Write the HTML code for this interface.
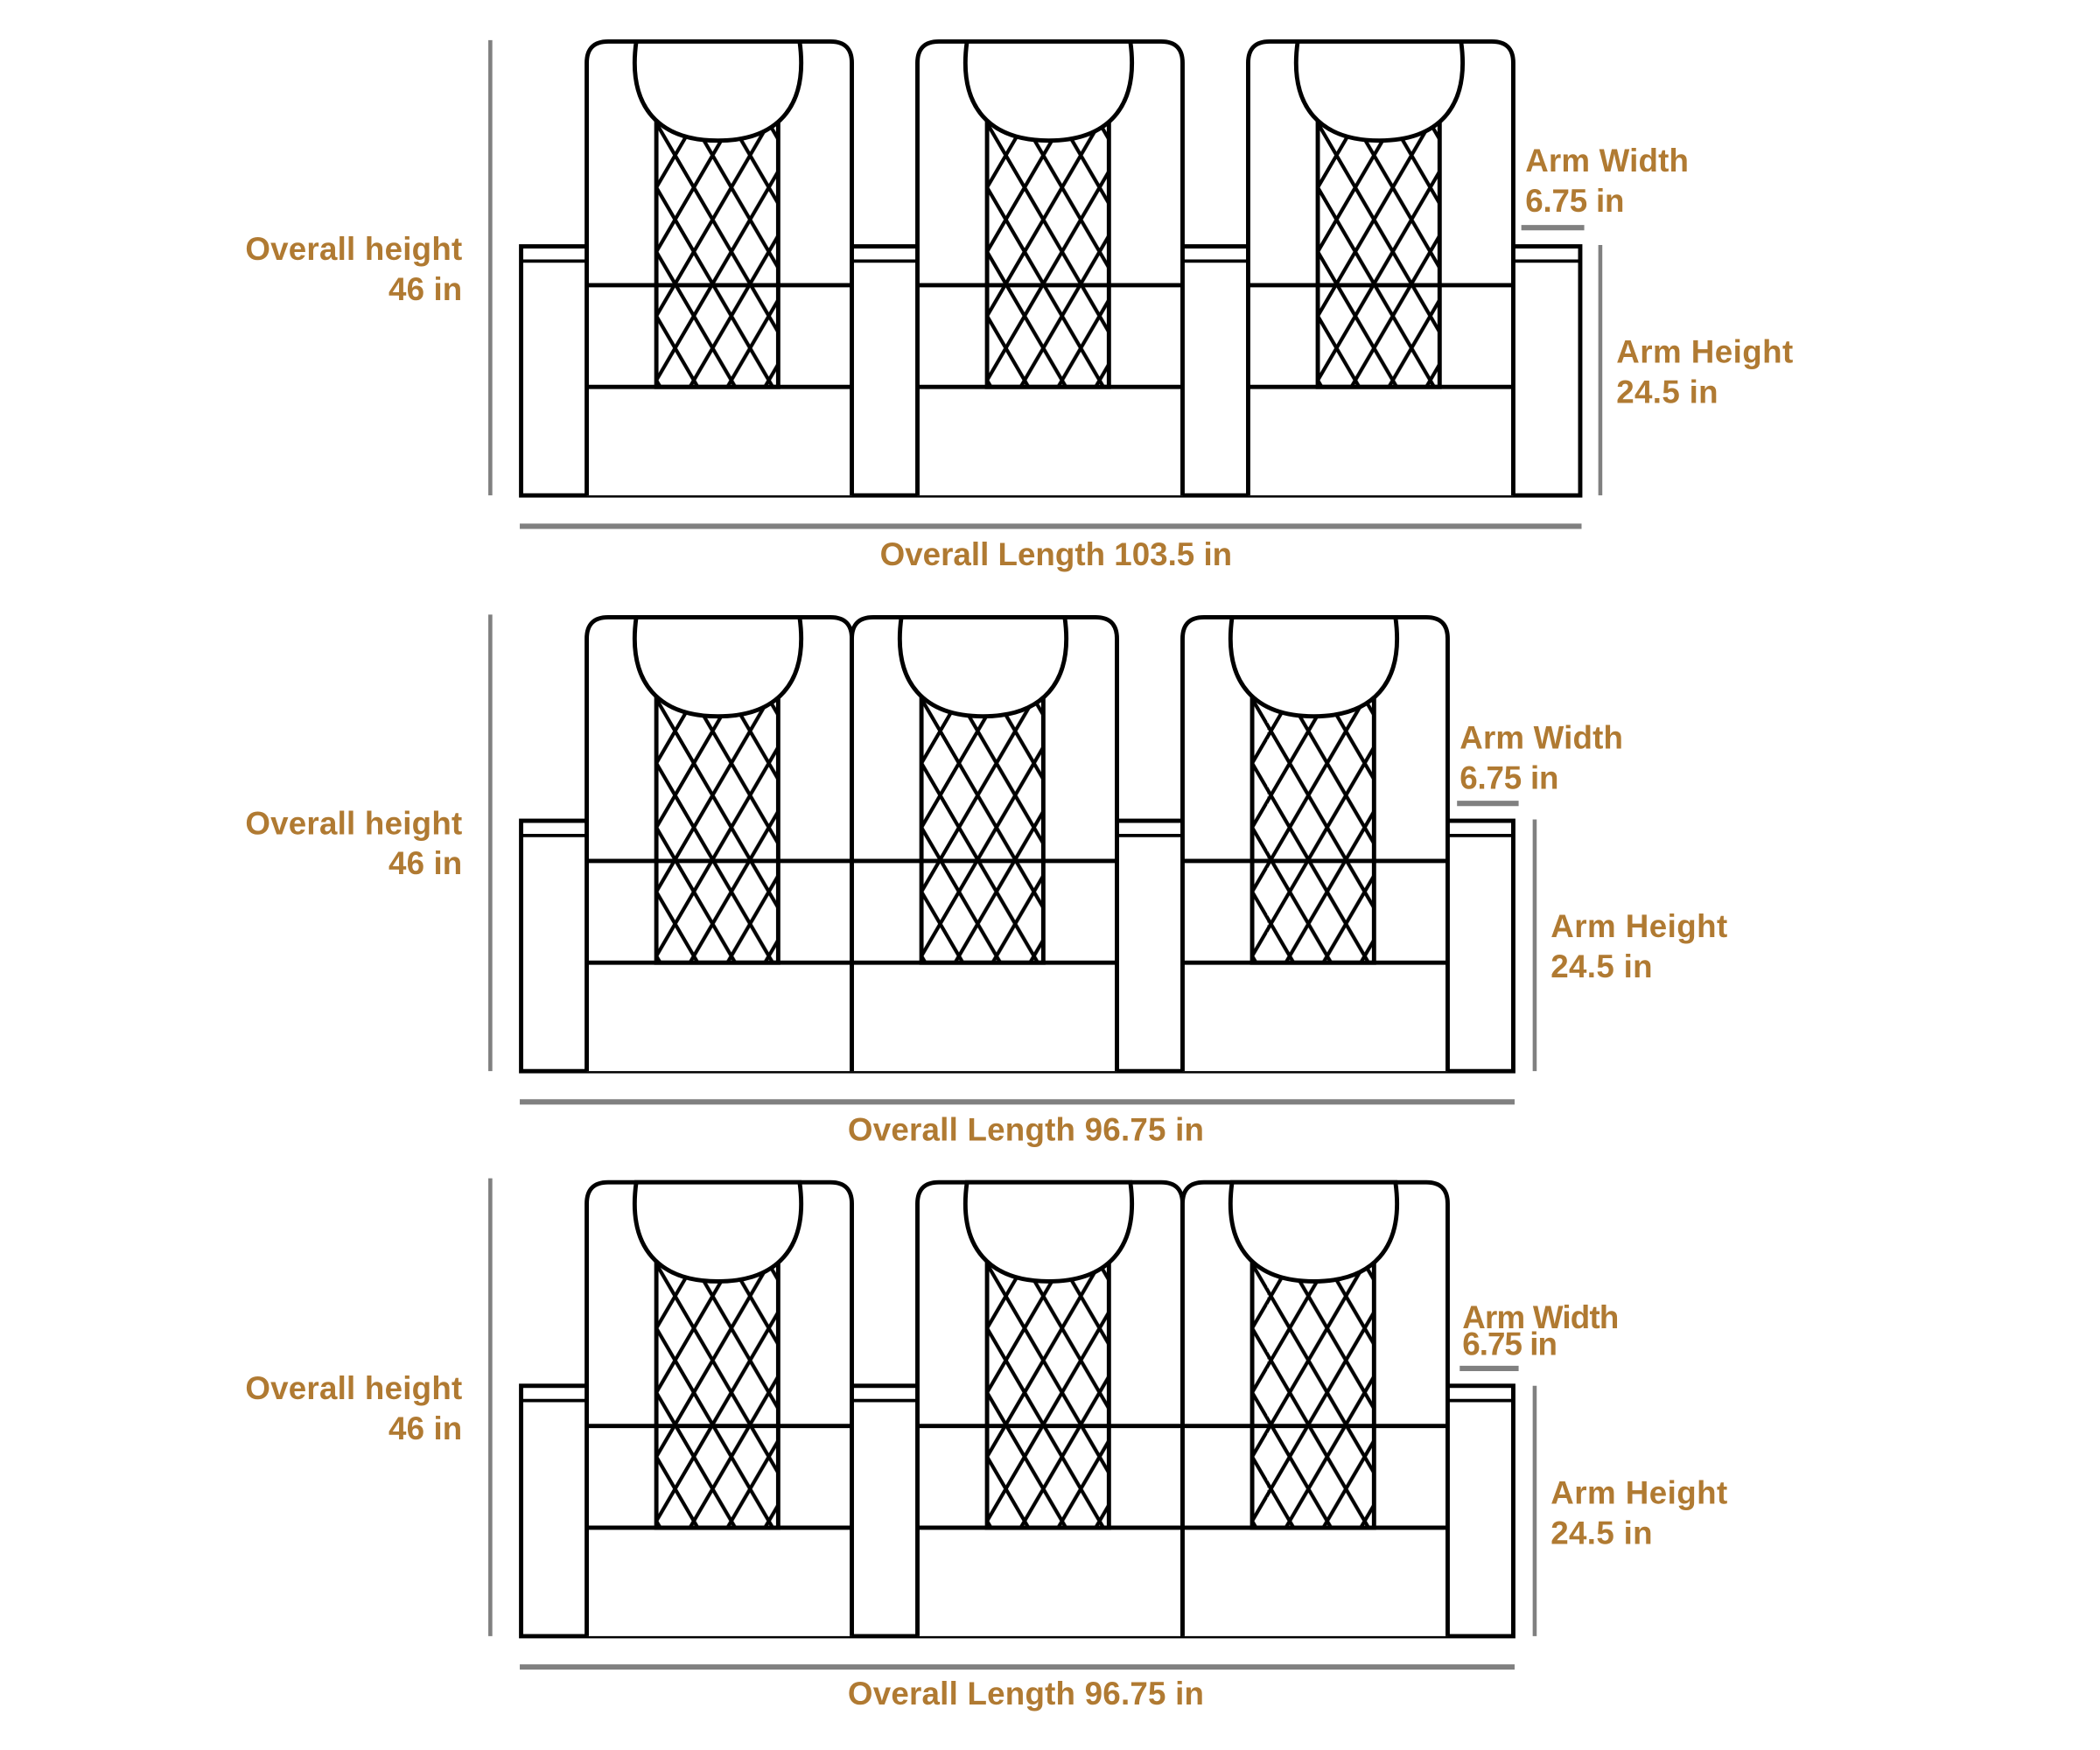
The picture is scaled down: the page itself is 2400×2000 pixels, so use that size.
<!DOCTYPE html>
<html><head><meta charset="utf-8"><style>
html,body{margin:0;padding:0;background:#fff;}
svg{display:block;}
text{font-family:"Liberation Sans",sans-serif;font-weight:bold;font-size:24px;fill:#b07a32;}
</style></head><body>
<svg width="2400" height="2000" viewBox="0 0 1568 1307" xmlns="http://www.w3.org/2000/svg">
<defs>
<pattern id="dia" patternUnits="userSpaceOnUse" x="66" y="37" width="28" height="48">
<path d="M-1,-1.71 L29,49.71 M29,-1.71 L-1,49.71" stroke="#000" stroke-width="2.7" fill="none"/>
</pattern>
<g id="seat">
<path d="M0,339 L0,16 Q0,0 16,0 L182,0 Q198,0 198,16 L198,339" fill="#fff" stroke="#000" stroke-width="3.2"/>
<rect x="52" y="57" width="91" height="201" fill="url(#dia)" stroke="#000" stroke-width="3.2"/>
<path d="M37,0 C30,50 55,74 98,74 C141,74 166,50 159,0 Z" fill="#fff" stroke="#000" stroke-width="3.2"/>
<line x1="0" y1="182" x2="198" y2="182" stroke="#000" stroke-width="3.2"/>
<line x1="0" y1="258" x2="198" y2="258" stroke="#000" stroke-width="3.2"/>
</g>
</defs>

<!-- ===== TOP ===== -->
<g>
<line x1="366" y1="30" x2="366" y2="370" stroke="#808080" stroke-width="3"/>
<rect x="389" y="184" width="791" height="186" fill="#fff" stroke="#000" stroke-width="3.2"/>
<line x1="389" y1="195" x2="1180" y2="195" stroke="#000" stroke-width="2.5"/>
<use href="#seat" x="438" y="31"/>
<use href="#seat" x="685" y="31"/>
<use href="#seat" x="932" y="31"/>
<line x1="1136" y1="170" x2="1183" y2="170" stroke="#808080" stroke-width="4"/>
<line x1="1195" y1="183" x2="1195" y2="370" stroke="#808080" stroke-width="3"/>
<line x1="388" y1="393" x2="1181" y2="393" stroke="#808080" stroke-width="4"/>
<text x="345" y="194" text-anchor="end" textLength="162">Overall height</text>
<text x="345" y="224" text-anchor="end" textLength="55">46 in</text>
<text x="1139" y="128" textLength="122">Arm Width</text>
<text x="1139" y="158" textLength="74">6.75 in</text>
<text x="1207" y="271" textLength="132">Arm Height</text>
<text x="1207" y="301" textLength="76">24.5 in</text>
<text x="657" y="422" textLength="263">Overall Length 103.5 in</text>
</g>

<!-- ===== MIDDLE ===== -->
<g>
<line x1="366" y1="459" x2="366" y2="800" stroke="#808080" stroke-width="3"/>
<rect x="389" y="613" width="741" height="187" fill="#fff" stroke="#000" stroke-width="3.2"/>
<line x1="389" y1="624" x2="1130" y2="624" stroke="#000" stroke-width="2.5"/>
<use href="#seat" x="438" y="461"/>
<use href="#seat" x="636" y="461"/>
<use href="#seat" x="883" y="461"/>
<line x1="1088" y1="600" x2="1134" y2="600" stroke="#808080" stroke-width="4"/>
<line x1="1146" y1="612" x2="1146" y2="800" stroke="#808080" stroke-width="3"/>
<line x1="388" y1="823" x2="1131" y2="823" stroke="#808080" stroke-width="4"/>
<text x="345" y="623" text-anchor="end" textLength="162">Overall height</text>
<text x="345" y="653" text-anchor="end" textLength="55">46 in</text>
<text x="1090" y="559" textLength="122">Arm Width</text>
<text x="1090" y="589" textLength="74">6.75 in</text>
<text x="1158" y="700" textLength="132">Arm Height</text>
<text x="1158" y="730" textLength="76">24.5 in</text>
<text x="633" y="852" textLength="266">Overall Length 96.75 in</text>
</g>

<!-- ===== BOTTOM ===== -->
<g>
<line x1="366" y1="880" x2="366" y2="1222" stroke="#808080" stroke-width="3"/>
<rect x="389" y="1035" width="741" height="187" fill="#fff" stroke="#000" stroke-width="3.2"/>
<line x1="389" y1="1046" x2="1130" y2="1046" stroke="#000" stroke-width="2.5"/>
<use href="#seat" x="438" y="883"/>
<use href="#seat" x="685" y="883"/>
<use href="#seat" x="883" y="883"/>
<line x1="1090" y1="1022" x2="1134" y2="1022" stroke="#808080" stroke-width="4"/>
<line x1="1146" y1="1035" x2="1146" y2="1222" stroke="#808080" stroke-width="3"/>
<line x1="388" y1="1245" x2="1131" y2="1245" stroke="#808080" stroke-width="4"/>
<text x="345" y="1045" text-anchor="end" textLength="162">Overall height</text>
<text x="345" y="1075" text-anchor="end" textLength="55">46 in</text>
<text x="1092" y="992" textLength="117">Arm Width</text>
<text x="1092" y="1012" textLength="71">6.75 in</text>
<text x="1158" y="1123" textLength="132">Arm Height</text>
<text x="1158" y="1153" textLength="76">24.5 in</text>
<text x="633" y="1273" textLength="266">Overall Length 96.75 in</text>
</g>
</svg>
</body></html>
